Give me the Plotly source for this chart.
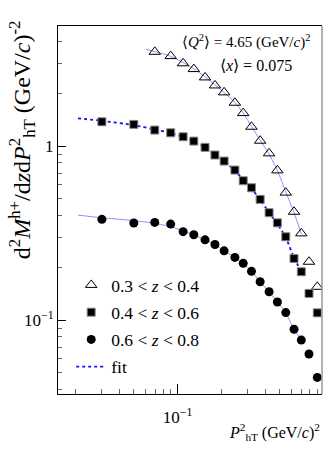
import plotly.graph_objects as go

# P_hT^2 bin centres, (GeV/c)^2
pt2 = [0.0303, 0.0501, 0.0697, 0.0896, 0.109, 0.129, 0.154, 0.180, 0.208, 0.2465,
       0.281, 0.320, 0.367, 0.4225, 0.4816, 0.5495, 0.626, 0.702, 0.7925, 0.903]

# 0.3 < z < 0.4 (starts at third bin)
tri_x = pt2[2:]
tri_y = [3.48, 3.29, 2.99, 2.77, 2.48, 2.23, 2.035, 1.774, 1.547, 1.291,
         1.073, 0.908, 0.725, 0.540, 0.419, 0.315, 0.2163, 0.1553]
# 0.4 < z < 0.6
sq_y = [1.379, 1.332, 1.236, 1.192, 1.131, 1.068, 0.983, 0.888, 0.820, 0.728,
        0.632, 0.576, 0.494, 0.414, 0.362, 0.301, 0.226, 0.1895, 0.1423, 0.110]
# 0.6 < z < 0.8
ci_y = [0.379, 0.361, 0.364, 0.356, 0.322, 0.309, 0.289, 0.2716, 0.250, 0.229,
        0.2118, 0.1905, 0.166, 0.1454, 0.1269, 0.1104, 0.0885, 0.0767, 0.0638, 0.0468]

# fit curves
fit_tri_x = [0.0608, 0.0697, 0.0896, 0.109, 0.129, 0.154, 0.180, 0.208, 0.2465,
             0.281, 0.320, 0.367, 0.4225, 0.4816, 0.5495, 0.626, 0.702]
fit_tri_y = [3.594, 3.49, 3.28, 3.02, 2.78, 2.50, 2.25, 2.03, 1.78, 1.55, 1.30,
             1.08, 0.90, 0.725, 0.545, 0.415, 0.312]
fit_x = [0.0208, 0.0303, 0.0501, 0.0697, 0.0896, 0.109, 0.129, 0.154, 0.180, 0.208,
         0.2465, 0.281, 0.320, 0.367, 0.4225, 0.4816, 0.5495, 0.626, 0.702]
fit_sq_y = [1.443, 1.397, 1.32, 1.245, 1.19, 1.128, 1.065, 0.985, 0.895, 0.815,
            0.725, 0.637, 0.57, 0.492, 0.415, 0.357, 0.298, 0.228, 0.19]
fit_ci_y = [0.401, 0.387, 0.373, 0.360, 0.344, 0.326, 0.309, 0.289, 0.271, 0.250,
            0.229, 0.211, 0.191, 0.166, 0.145, 0.127, 0.110, 0.0885, 0.0767]

labels = ["0.3 < <i>z</i> < 0.4", "0.4 < <i>z</i> < 0.6", "0.6 < <i>z</i> < 0.8", "fit"]

SERIF = "Liberation Serif"
light = "#8f8fff"

fig = go.Figure()
fig.add_trace(go.Scatter(x=fit_tri_x, y=fit_tri_y, mode="lines", showlegend=False,
                         line=dict(color=light, width=1, shape="spline", smoothing=0.6)))
fig.add_trace(go.Scatter(x=fit_x, y=fit_ci_y, mode="lines", showlegend=False,
                         line=dict(color=light, width=1, shape="spline", smoothing=0.6)))
fig.add_trace(go.Scatter(x=fit_x, y=fit_sq_y, mode="lines", showlegend=False,
                         line=dict(color="#1010ff", width=1.8, dash="dot", shape="spline", smoothing=0.6)))

fig.add_trace(go.Scatter(x=tri_x, y=tri_y, mode="markers", name=labels[0], legendgroup="a", legendrank=1,
                         marker=dict(symbol="triangle-up-open", size=10, color="black", line=dict(width=1))))
fig.add_trace(go.Scatter(x=pt2, y=sq_y, mode="markers", name=labels[1], legendgroup="b", legendrank=2,
                         marker=dict(symbol="square", size=8, color="black", line=dict(width=1, color="#888"))))
fig.add_trace(go.Scatter(x=pt2, y=ci_y, mode="markers", name=labels[2], legendgroup="c", legendrank=3,
                         marker=dict(symbol="circle", size=9, color="black", line=dict(width=0))))
fig.add_trace(go.Scatter(x=[None], y=[None], mode="lines", name=labels[3], legendgroup="d", legendrank=4,
                         line=dict(color="#1010ff", width=1.8, dash="dot")))

fig.update_layout(
    width=332, height=452,
    margin=dict(l=58, r=10, t=26, b=58),
    paper_bgcolor="white", plot_bgcolor="white",
    font=dict(family=SERIF, size=17, color="black"),
    legend=dict(x=0.05, y=0.345, xanchor="left", yanchor="top", bgcolor="rgba(0,0,0,0)",
                font=dict(family=SERIF, size=17.5), tracegroupgap=1.5, itemwidth=30),
    showlegend=True,
)

fig.update_xaxes(
    type="log", range=[-1.819, -0.012],
    showline=True, linecolor="black", linewidth=1, mirror=True,
    showgrid=False, zeroline=False,
    ticks="inside", ticklen=10, tickcolor="black", tickwidth=1,
    tickvals=[0.1], ticktext=["10<sup>\u22121</sup>"],
    ticklabelstandoff=8,
    tickfont=dict(family=SERIF, size=17),
    minor=dict(tickvals=[0.02, 0.03, 0.04, 0.05, 0.06, 0.07, 0.08, 0.09,
                         0.2, 0.3, 0.4, 0.5, 0.6, 0.7, 0.8, 0.9],
               ticks="inside", ticklen=5, tickcolor="#666", showgrid=False),
)
fig.update_yaxes(
    type="log", range=[-1.425, 0.690],
    showline=True, linecolor="black", linewidth=1, mirror=False,
    showgrid=False, zeroline=False,
    ticks="inside", ticklen=8, tickcolor="black", tickwidth=1,
    tickvals=[0.1, 1], ticktext=["10<sup>\u22121</sup>", "1"],
    tickfont=dict(family=SERIF, size=17),
    minor=dict(tickvals=[0.04, 0.05, 0.06, 0.07, 0.08, 0.09,
                         0.2, 0.3, 0.4, 0.5, 0.6, 0.7, 0.8, 0.9, 2, 3, 4],
               ticks="inside", ticklen=4, tickcolor="#666", showgrid=False),
)

# right frame border (grey)
fig.add_shape(type="line", xref="paper", yref="paper", x0=1, x1=1, y0=0, y1=1,
              line=dict(color="#999", width=1.5))

fig.add_annotation(xref="paper", yref="paper", x=0.962, y=0.959, xanchor="right", yanchor="middle",
                   text="\u27e8<i>Q</i><sup>2</sup>\u27e9 = 4.65 (GeV/<i>c</i>)<sup>2</sup>",
                   showarrow=False, font=dict(family=SERIF, size=15))
fig.add_annotation(xref="paper", yref="paper", x=0.75, y=0.894, xanchor="center", yanchor="middle",
                   text="\u27e8<i>x</i>\u27e9 = 0.075",
                   showarrow=False, font=dict(family=SERIF, size=16))
fig.add_annotation(xref="paper", yref="paper", x=1.0, y=-0.103, xanchor="right", yanchor="middle",
                   text="<i>P</i><sup>2</sup><sub>hT</sub> (GeV/<i>c</i>)<sup>2</sup>",
                   showarrow=False, font=dict(family=SERIF, size=16))
fig.add_annotation(xref="paper", yref="paper", x=-0.136, y=0.69, xanchor="center", yanchor="middle",
                   textangle=-90,
                   text="d<sup>2</sup><i>M</i><sup>h+</sup>/d<i>z</i>d<i>P</i><sup>2</sup><sub>hT</sub> (GeV/<i>c</i>)<sup>-2</sup>",
                   showarrow=False, font=dict(family=SERIF, size=24))

fig.write_html("out.html", config={"displayModeBar": False},
               post_script="document.body.style.margin='0';document.body.style.overflow='hidden';")
